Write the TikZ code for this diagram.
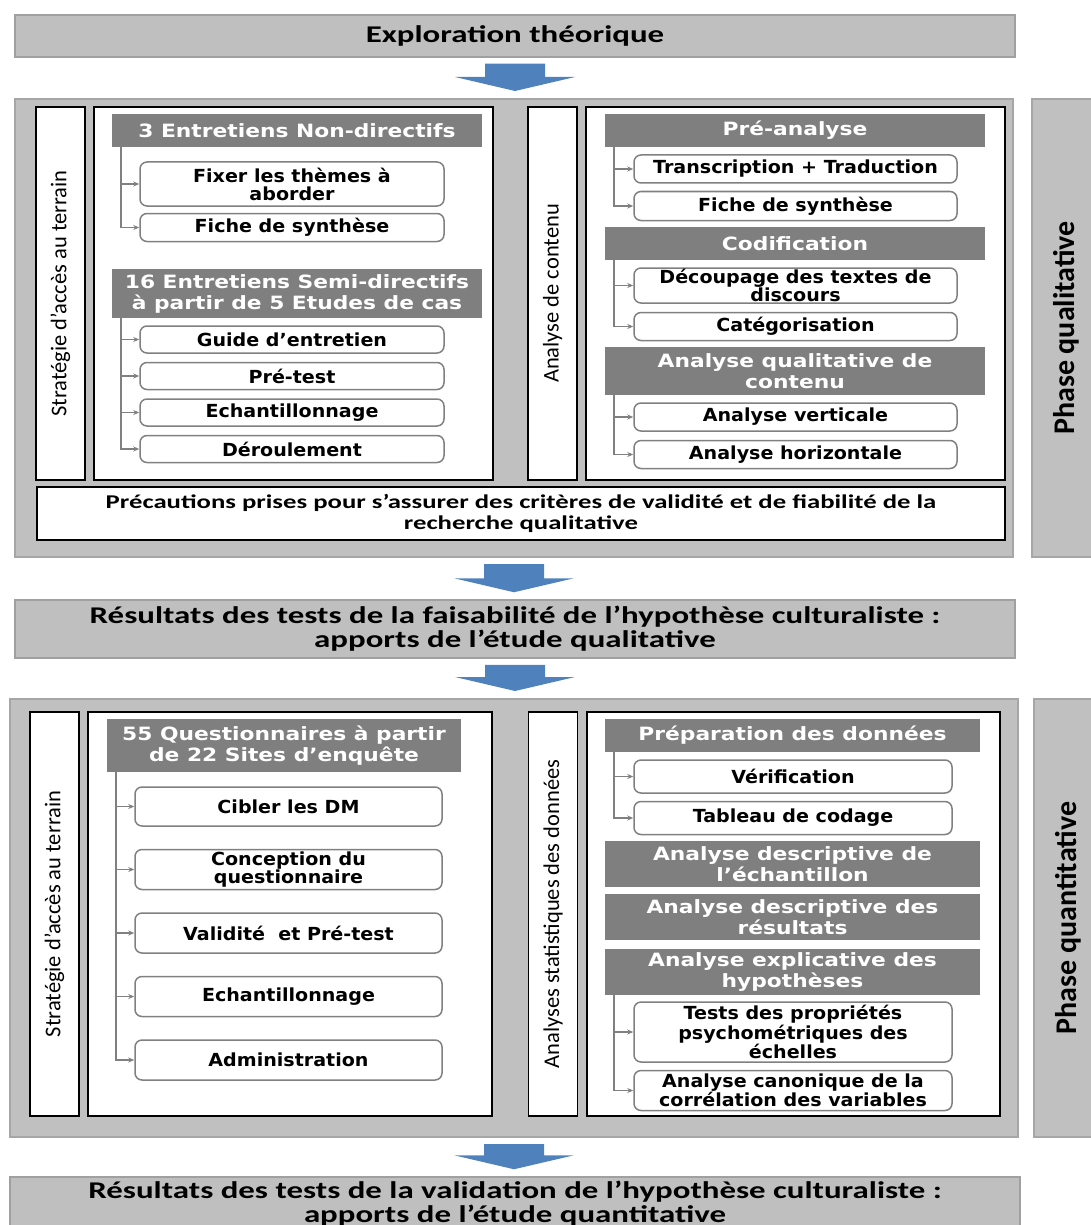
\documentclass[tikz,border=0pt]{standalone}
\usepackage{fontspec}
\setmainfont{Carlito}
\newfontfamily\boxfont[FakeStretch=1.06]{DejaVu Sans}
\newfontfamily\hdrfont[FakeStretch=1.19]{DejaVu Sans}
\newfontfamily\barfont[FakeStretch=1.37]{Carlito}
\usetikzlibrary{arrows.meta,positioning,calc}
\definecolor{barfill}{HTML}{BFBFBF}
\definecolor{barline}{HTML}{A0A0A0}
\definecolor{panelfill}{HTML}{C0C0C0}
\definecolor{panelline}{HTML}{A6A6A6}
\definecolor{hdrfill}{HTML}{7F7F7F}
\definecolor{itemline}{HTML}{808080}
\definecolor{arrowblue}{HTML}{4F81BD}

% wide blue arrow between two stacked blocks
\newcommand{\blockarrow}[2]{%
  \fill[arrowblue] let \p1=(#1.south), \p2=(#2.north) in
    (\x1-30pt,\y1-6pt) -- (\x1+30pt,\y1-6pt) -- (\x1+30pt,\y2+21pt) -- (\x1+60pt,\y2+21pt)
    -- (\x1,\y2+7pt) -- (\x1-60pt,\y2+21pt) -- (\x1-30pt,\y2+21pt) -- cycle;}

\begin{document}
\begin{tikzpicture}[
  x=1pt, y=-1pt,
  bar/.style={rectangle, draw=barline, fill=barfill, line width=1.5pt, inner sep=0pt,
              align=center, minimum width=1000pt, font=\barfont\bfseries\fontsize{24}{24}\selectfont},
  panel/.style={rectangle, draw=panelline, fill=panelfill, line width=2pt, inner sep=0pt},
  side/.style={panel, rotate=90, minimum height=68pt, font=\bfseries\fontsize{30}{32}\selectfont},
  lab/.style={rectangle, draw=black, fill=white, line width=1.2pt, rotate=90, inner sep=0pt,
              minimum height=49pt, font=\fontsize{22.5}{23}\selectfont},
  outerbox/.style={rectangle, draw=black, fill=white, line width=1.2pt, inner sep=0pt},
  hdr/.style={rectangle, fill=hdrfill, text=white, inner sep=0pt, align=center,
              font=\hdrfont\bfseries\fontsize{18.3}{21}\selectfont},
  leaf/.style={rectangle, rounded corners=7pt, draw=itemline, line width=1.5pt, fill=white,
               inner sep=0pt, align=center, minimum width=#1,
               font=\boxfont\bfseries\fontsize{18}{18}\selectfont},
  tree/.style={draw=itemline, line width=1.5pt, -{Stealth[length=6pt,width=5pt]}},
]
\useasboundingbox (0,0) rectangle (1091,1225);

% ---- phase qualitative
\node[bar, minimum height=42pt] (explo) at (515,36) {Exploration théorique};
\node[panel, minimum width=998pt, minimum height=458pt] (qual) at (514,328) {};
\node[side, minimum width=458pt] (qualside) at (1066,328) {Phase qualitative};

\node[lab, minimum width=373pt] (labA) at (60.5,293.5) {Stratégie d’accès au terrain};
\node[outerbox, minimum width=399pt, minimum height=373pt] (boxA) at (293.5,293.5) {};
\node[hdr, minimum width=370pt, minimum height=33pt] (hA1) at (297,130.5) {3 Entretiens Non-directifs};
\node[leaf=304pt, minimum height=44pt] (cA1) at (292,184) {Fixer les thèmes à\\aborder};
\node[leaf=304pt, minimum height=28pt, below=6pt of cA1] (cA2) {Fiche de synthèse};
\node[hdr, minimum width=370pt, minimum height=49pt] (hA2) at (297,293.5) {16 Entretiens Semi-directifs\\à partir de 5 Etudes de cas};
\node[leaf=304pt, minimum height=27pt] (cA3) at (292,339.5) {Guide d’entretien};
\node[leaf=304pt, minimum height=27pt, below=8pt of cA3] (cA4) {Pré-test};
\node[leaf=304pt, minimum height=27pt, below=8pt of cA4] (cA5) {Echantillonnage};
\node[leaf=304pt, minimum height=27pt, below=8pt of cA5] (cA6) {Déroulement};
\coordinate (tA) at (121,0);
\foreach \c in {cA1,cA2} \draw[tree] (hA1.south -| tA) |- (\c.west);
\foreach \c in {cA3,cA4,cA5,cA6} \draw[tree] (hA2.south -| tA) |- (\c.west);

\node[lab, minimum width=373pt] (labB) at (552.5,293.5) {Analyse de contenu};
\node[outerbox, minimum width=419pt, minimum height=373pt] (boxB) at (795.5,293.5) {};
\node[hdr, minimum width=380pt, minimum height=33pt] (hB1) at (795,130.5) {Pré-analyse};
\node[leaf=323pt, minimum height=28pt] (cB1) at (795.5,169) {Transcription + Traduction};
\node[leaf=323pt, minimum height=29pt, below=7pt of cB1] (cB2) {Fiche de synthèse};
\node[hdr, minimum width=380pt, minimum height=33pt] (hB2) at (795,243.5) {Codification};
\node[leaf=323pt, minimum height=35pt] (cB3) at (795.5,285.5) {Découpage des textes de\\discours};
\node[leaf=323pt, minimum height=28pt, below=8pt of cB3] (cB4) {Catégorisation};
\node[hdr, minimum width=380pt, minimum height=48pt] (hB3) at (795,371) {Analyse qualitative de\\contenu};
\node[leaf=323pt, minimum height=28pt] (cB5) at (795.5,417) {Analyse verticale};
\node[leaf=323pt, minimum height=28pt, below=8pt of cB5] (cB6) {Analyse horizontale};
\coordinate (tB) at (614,0);
\foreach \c in {cB1,cB2} \draw[tree] (hB1.south -| tB) |- (\c.west);
\foreach \c in {cB3,cB4} \draw[tree] (hB2.south -| tB) |- (\c.west);
\foreach \c in {cB5,cB6} \draw[tree] (hB3.south -| tB) |- (\c.west);

\node[outerbox, minimum width=968pt, minimum height=53pt, align=center,
      font=\barfont\bfseries\fontsize{19.5}{21}\selectfont] (prec) at (521,513.5)
  {Précautions prises pour s’assurer des critères de validité et de fiabilité de la\\recherche qualitative};

\node[bar, minimum height=58pt] (res1) at (515,629)
  {Résultats des tests de la faisabilité de l’hypothèse culturaliste :\\apports de l’étude qualitative};

% ---- phase quantitative
\node[panel, minimum width=1008pt, minimum height=438pt] (quant) at (514,918) {};
\node[side, minimum width=438pt] (quantside) at (1068,918) {Phase quantitative};

\node[lab, minimum width=404pt] (labC) at (54.5,914) {Stratégie d’accès au terrain};
\node[outerbox, minimum width=404pt, minimum height=404pt] (boxC) at (290,914) {};
\node[hdr, minimum width=354pt, minimum height=53pt] (hC1) at (284,745.5) {55 Questionnaires à partir\\de 22 Sites d’enquête};
\node[leaf=307pt, minimum height=39pt] (cC1) at (288.5,806.5) {Cibler les DM};
\node[leaf=307pt, minimum height=40pt, below=22pt of cC1] (cC2) {Conception du\\questionnaire};
\node[leaf=307pt, minimum height=40pt, below=22pt of cC2] (cC3) {Validité\ \ et Pré-test};
\node[leaf=307pt, minimum height=40pt, below=22pt of cC3] (cC4) {Echantillonnage};
\node[leaf=307pt, minimum height=40pt, below=22pt of cC4] (cC5) {Administration};
\coordinate (tC) at (116,0);
\foreach \c in {cC1,cC2,cC3,cC4,cC5} \draw[tree] (hC1.south -| tC) |- (\c.west);

\node[lab, minimum width=404pt] (labD) at (553,914) {Analyses statistiques des données};
\node[outerbox, minimum width=413pt, minimum height=404pt] (boxD) at (793.5,914) {};
\node[hdr, minimum width=375pt, minimum height=33pt] (hD1) at (792.5,735.5) {Préparation des données};
\node[leaf=318pt, minimum height=33pt] (cD1) at (793,776.5) {Vérification};
\node[leaf=318pt, minimum height=33pt, below=7pt of cD1] (cD2) {Tableau de codage};
\node[hdr, minimum width=375pt, minimum height=46pt] (hD2) at (792.5,864) {Analyse descriptive de\\l’échantillon};
\node[hdr, minimum width=375pt, minimum height=46pt, below=7pt of hD2] (hD3) {Analyse descriptive des\\résultats};
\node[hdr, minimum width=375pt, minimum height=46pt, below=8pt of hD3] (hD4) {Analyse explicative des\\hypothèses};
\node[leaf=318pt, minimum height=60pt] (cD3) at (793,1032) {Tests des propriétés\\psychométriques des\\échelles};
\node[leaf=318pt, minimum height=40pt, below=7pt of cD3] (cD4) {Analyse canonique de la\\corrélation des variables};
\coordinate (tD) at (614,0);
\foreach \c in {cD1,cD2} \draw[tree] (hD1.south -| tD) |- (\c.west);
\foreach \c in {cD3,cD4} \draw[tree] (hD4.south -| tD) |- (\c.west);

\node[bar, minimum width=1010pt, minimum height=54pt] (res2) at (515,1204)
  {Résultats des tests de la validation de l’hypothèse culturaliste :\\apports de l’étude quantitative};

% ---- flow arrows
\blockarrow{explo}{qual}
\blockarrow{qual}{res1}
\blockarrow{res1}{quant}
\blockarrow{quant}{res2}

\end{tikzpicture}
\end{document}
